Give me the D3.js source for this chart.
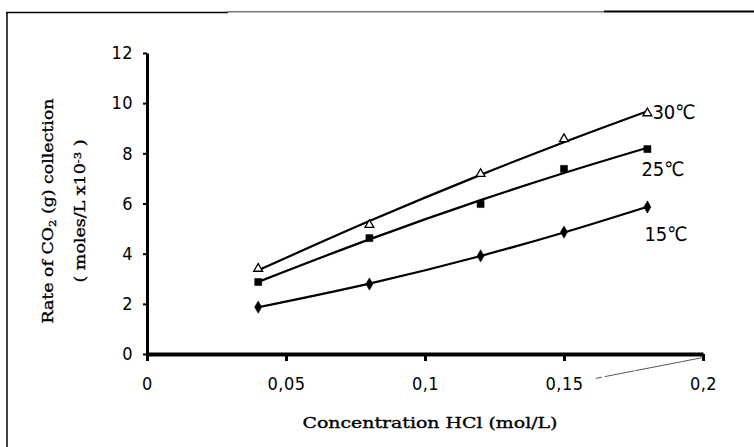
<!DOCTYPE html>
<html>
<head>
<meta charset="utf-8">
<script src="https://cdn.jsdelivr.net/npm/d3@7"></script>
<style>
  body { margin: 0; background: #fff; }
  .tick text { font-family: "DejaVu Sans Condensed", "DejaVu Sans", sans-serif; font-stretch: condensed; font-size: 18px; letter-spacing: 0.5px; fill: #000; }
  .axis-title { font-family: "DejaVu Serif", serif; font-size: 15px; fill: #000; stroke: #000; stroke-width: 0.35px; }
  .series-label { font-family: "DejaVu Sans Condensed", "DejaVu Sans", sans-serif; font-stretch: condensed; font-size: 20px; fill: #000; }
</style>
</head>
<body>
<script>
// Data
var concentration = [0.04, 0.08, 0.12, 0.15, 0.18];
var rate30 = [3.4, 5.15, 7.18, 8.57, 9.6];
var rate25 = [2.87, 4.62, 5.98, 7.38, 8.17];
var rate15 = [1.87, 2.79, 3.91, 4.86, 5.86];
var seriesNames = ["30℃", "25℃", "15℃"];
var xTickValues = [0, 0.05, 0.1, 0.15, 0.2];
var xTickLabels = ["0", "0,05", "0,1", "0,15", "0,2"];
var yTickValues = [0, 2, 4, 6, 8, 10, 12];

// SVG area
var svgWidth = 754;
var svgHeight = 447;

var margin = { top: 53, right: 51, bottom: 93, left: 147 };
var chartWidth = svgWidth - margin.left - margin.right;
var chartHeight = svgHeight - margin.top - margin.bottom;

var svg = d3.select("body")
  .append("svg")
  .attr("width", svgWidth)
  .attr("height", svgHeight);

// outer frame (scanned figure border)
svg.append("line")
  .attr("x1", 7).attr("x2", 7).attr("y1", 12).attr("y2", 447)
  .attr("stroke", "#000").attr("stroke-width", 1.5);
svg.append("line")
  .attr("x1", 6.3).attr("x2", 228).attr("y1", 12.5).attr("y2", 12.5)
  .attr("stroke", "#000").attr("stroke-width", 1.6);
svg.append("line")
  .attr("x1", 227).attr("x2", 604).attr("y1", 11.8).attr("y2", 11.8)
  .attr("stroke", "#777").attr("stroke-width", 1.5);
svg.append("line")
  .attr("x1", 604).attr("x2", 754).attr("y1", 11.5).attr("y2", 11.5)
  .attr("stroke", "#000").attr("stroke-width", 2);

var chartGroup = svg.append("g")
  .attr("transform", `translate(${margin.left}, ${margin.top})`);

var xLinearScale = d3.scaleLinear()
  .domain([0, 0.2])
  .range([0, chartWidth]);

var yLinearScale = d3.scaleLinear()
  .domain([0, 12])
  .range([chartHeight, 0]);

// second order least squares trend, like a spreadsheet trendline
function quadFit(xs, ys) {
  var s = [0, 0, 0, 0, 0], t = [0, 0, 0];
  xs.forEach(function(x, i) {
    for (var k = 0; k < 5; k++) s[k] += Math.pow(x, k);
    for (var k = 0; k < 3; k++) t[k] += ys[i] * Math.pow(x, k);
  });
  var m = [[s[0], s[1], s[2], t[0]], [s[1], s[2], s[3], t[1]], [s[2], s[3], s[4], t[2]]];
  for (var c = 0; c < 3; c++) {
    for (var r = c + 1; r < 3; r++) {
      var f = m[r][c] / m[c][c];
      for (var k = c; k < 4; k++) m[r][k] -= f * m[c][k];
    }
  }
  var b = [0, 0, 0];
  for (var r = 2; r >= 0; r--) {
    var v = m[r][3];
    for (var k = r + 1; k < 3; k++) v -= m[r][k] * b[k];
    b[r] = v / m[r][r];
  }
  return function(x) { return b[0] + b[1] * x + b[2] * x * x; };
}

var allSeries = [rate30, rate25, rate15];
var symbols = [d3.symbolTriangle, d3.symbolSquare, d3.symbolDiamond];
var symbolSizes = [34, 50, 44];
var labelOffsets = [[5, 6], [-6, 27], [-3, 34]];

var drawLine = d3.line()
  .x(d => xLinearScale(d[0]))
  .y(d => yLinearScale(d[1]))
  .curve(d3.curveMonotoneX);

allSeries.forEach(function(values, s) {
  var fit = quadFit(concentration, values);
  var trend = concentration.map(x => [x, fit(x)]);

  chartGroup.append("path")
    .attr("d", drawLine(trend))
    .attr("fill", "none")
    .attr("stroke", "#000")
    .attr("stroke-width", 2.2);

  chartGroup.selectAll(".pt" + s)
    .data(concentration)
    .enter()
    .append("path")
    .attr("transform", (d, i) => `translate(${xLinearScale(d)}, ${yLinearScale(values[i])})`)
    .attr("d", d3.symbol().type(symbols[s]).size(symbolSizes[s]))
    .attr("fill", s === 0 ? "#fff" : "#000")
    .attr("stroke", "#000")
    .attr("stroke-width", s === 0 ? 1.3 : 0.5);

  var last = concentration.length - 1;
  chartGroup.append("text")
    .classed("series-label", true)
    .attr("x", xLinearScale(concentration[last]) + labelOffsets[s][0])
    .attr("y", yLinearScale(values[last]) + labelOffsets[s][1])
    .text(seriesNames[s]);
});

// axes
var leftAxis = d3.axisLeft(yLinearScale)
  .tickValues(yTickValues)
  .tickSize(4)
  .tickSizeOuter(0)
  .tickPadding(10);

var bottomAxis = d3.axisBottom(xLinearScale)
  .tickValues(xTickValues)
  .tickFormat((d, i) => xTickLabels[i])
  .tickSize(7)
  .tickSizeOuter(0)
  .tickPadding(16);

var yAxisGroup = chartGroup.append("g")
  .classed("axis", true)
  .call(leftAxis);
yAxisGroup.select(".domain").attr("stroke-width", 3).attr("stroke", "#000");
yAxisGroup.selectAll(".tick line").attr("stroke-width", 2).attr("stroke", "#000");

var xAxisGroup = chartGroup.append("g")
  .classed("axis", true)
  .attr("transform", "translate(0, " + chartHeight + ")")
  .call(bottomAxis);
xAxisGroup.select(".domain").attr("stroke-width", 4).attr("stroke", "#000");
xAxisGroup.selectAll(".tick line").attr("stroke-width", 3).attr("stroke", "#000");

// faint stray stroke from the scan, below the axis
chartGroup.append("line")
  .attr("x1", xLinearScale(0.1615)).attr("y1", yLinearScale(-0.97))
  .attr("x2", xLinearScale(0.2)).attr("y2", yLinearScale(-0.14))
  .attr("stroke", "#555")
  .attr("stroke-width", 1)
  .attr("stroke-dasharray", "6,3,30,1,200");

// axis titles
svg.append("text")
  .classed("axis-title", true)
  .attr("x", 430)
  .attr("y", 428)
  .attr("text-anchor", "middle")
  .attr("textLength", 255)
  .attr("lengthAdjust", "spacingAndGlyphs")
  .text("Concentration HCl (mol/L)");

var yTitle = svg.append("text")
  .classed("axis-title", true)
  .attr("transform", "translate(53, 211) rotate(-90)")
  .attr("text-anchor", "middle")
  .attr("textLength", 225)
  .attr("lengthAdjust", "spacingAndGlyphs");
yTitle.append("tspan").text("Rate of CO");
yTitle.append("tspan").attr("baseline-shift", "-25%").attr("font-size", "10px").text("2");
yTitle.append("tspan").text(" (g) collection");

var yTitle2 = svg.append("text")
  .classed("axis-title", true)
  .attr("transform", "translate(85, 211) rotate(-90)")
  .attr("text-anchor", "middle")
  .attr("textLength", 143)
  .attr("lengthAdjust", "spacingAndGlyphs");
yTitle2.append("tspan").text("( moles/L x10");
yTitle2.append("tspan").attr("baseline-shift", "40%").attr("font-size", "10px").text("-3");
yTitle2.append("tspan").text(" )");
</script>
</body>
</html>
